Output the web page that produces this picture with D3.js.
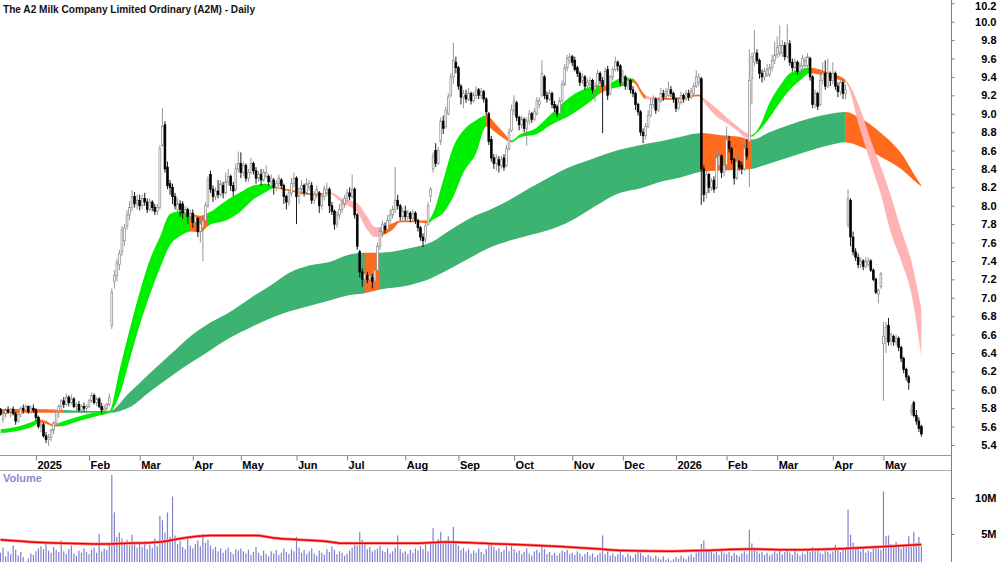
<!DOCTYPE html>
<html>
<head>
<meta charset="UTF-8" />
<title>A2M Daily</title>
<script src="https://d3js.org/d3.v7.min.js"></script>
<style>
  body { margin: 0; background: #fff; }
  svg text { font-family: "Liberation Sans", Arial, sans-serif; }
</style>
</head>
<body>
<div id="chart"></div>
<script>
// ---- data ----
const firstDay = '2024-12-10', lastDay = '2026-05-22';
const holidays = ['2024-12-25','2024-12-26','2025-01-01','2025-01-27','2025-04-18','2025-04-21',
  '2025-04-25','2025-06-09','2025-12-25','2025-12-26','2026-01-01','2026-01-26','2026-04-03','2026-04-06'];

const opens = [
  5.79,5.68,5.74,5.78,5.76,5.79,5.74,5.66,5.73,5.80,5.78,5.82,5.76,5.80,
  5.78,5.70,5.60,5.62,5.50,5.46,5.48,5.56,5.64,5.76,5.82,5.88,5.84,5.92,5.86,5.90,5.82,5.84,5.78,5.82,5.80,
  5.82,5.88,5.94,5.86,5.90,5.82,5.78,5.80,5.84,6.70,7.18,7.24,7.36,7.50,7.62,7.78,7.90,7.98,8.10,8.02,
  8.06,8.00,8.08,8.04,7.96,8.04,7.98,7.94,7.98,8.66,8.88,8.42,8.24,8.20,8.10,7.96,8.02,8.02,7.92,7.96,7.88,
  7.92,7.82,7.86,7.72,7.76,7.84,8.00,8.34,8.18,8.10,8.16,8.12,8.22,8.14,8.26,8.32,8.22,8.18,8.40,
  8.46,8.36,8.44,8.30,8.36,8.46,8.38,8.30,8.34,8.28,8.32,8.32,8.26,8.28,8.20,8.24,8.28,8.22,8.10,8.04,8.14,8.24,
  8.30,8.10,8.18,8.22,8.14,8.20,8.22,8.06,8.12,8.14,8.00,8.10,8.14,8.18,8.00,7.94,7.80,7.90,7.96,8.02,
  8.08,8.14,8.10,8.18,7.90,7.50,7.28,7.20,7.24,7.20,7.22,7.18,7.30,7.56,7.72,7.78,7.74,7.84,7.90,7.96,8.06,8.00,7.88,
  7.94,7.88,7.92,7.86,7.92,7.84,7.76,7.66,7.64,7.80,8.10,8.40,8.60,8.46,8.70,8.92,8.86,9.00,9.20,9.40,9.56,
  9.50,9.30,9.18,9.20,9.16,9.22,9.14,9.20,9.26,9.20,9.24,9.16,9.00,8.72,8.52,8.46,8.50,8.44,8.52,8.44,8.62,8.82,
  9.04,9.12,8.96,8.88,8.94,8.84,8.92,9.00,8.94,9.00,9.10,9.20,9.40,9.20,9.16,9.22,9.10,9.08,9.00,9.14,9.32,9.50,9.58,
  9.62,9.58,9.50,9.44,9.36,9.40,9.30,9.32,9.36,9.26,9.30,9.44,9.36,9.30,9.48,9.22,9.40,9.48,9.56,9.52,
  9.34,9.40,9.30,9.36,9.26,9.22,9.10,9.02,8.80,8.76,8.86,8.98,9.10,9.16,9.04,9.14,9.22,9.18,9.20,9.26,9.22,
  9.16,9.06,9.12,9.20,9.16,9.22,9.18,9.22,9.30,9.34,9.38,8.40,8.14,8.34,8.20,8.28,8.20,8.44,8.54,8.36,
  8.44,8.70,8.62,8.50,8.30,8.48,8.44,8.40,8.62,8.70,9.38,9.56,9.66,9.58,9.44,9.40,9.42,9.42,9.50,9.58,
  9.64,9.66,9.66,9.74,9.62,9.76,9.56,9.50,9.56,9.46,9.52,9.52,9.52,9.60,9.40,9.10,9.22,9.10,9.36,9.44,9.30,9.44,
  9.36,9.44,9.30,9.24,9.34,9.22,7.80,8.06,7.66,7.50,7.44,7.36,7.40,7.34,7.36,7.40,7.30,7.20,7.04,7.12,
  6.50,6.56,6.70,6.54,6.58,6.52,6.56,6.46,6.34,6.22,6.14,5.76,5.86,5.72,5.66,5.60
];
const highs = [
  5.80,5.76,5.80,5.82,5.80,5.82,5.76,5.76,5.82,5.84,5.84,5.83,5.83,5.84,
  5.80,5.72,5.64,5.64,5.54,5.52,5.58,5.66,5.78,5.84,5.90,5.92,5.96,5.94,5.95,5.92,5.86,5.88,5.84,5.86,5.84,
  5.90,5.97,5.96,5.92,5.92,5.86,5.84,5.86,5.96,7.10,7.30,7.42,7.52,7.78,7.80,7.95,8.05,8.17,8.15,8.12,
  8.12,8.12,8.14,8.08,8.08,8.06,8.02,8.02,8.66,9.06,8.92,8.48,8.28,8.24,8.14,8.08,8.06,8.05,8.00,7.98,7.96,
  7.96,7.90,7.88,7.84,7.88,8.04,8.32,8.38,8.22,8.20,8.28,8.28,8.26,8.36,8.40,8.34,8.26,8.46,8.59,
  8.58,8.48,8.46,8.40,8.52,8.48,8.42,8.38,8.40,8.40,8.44,8.34,8.34,8.30,8.28,8.34,8.30,8.24,8.12,8.16,8.30,8.36,
  8.32,8.20,8.28,8.24,8.30,8.28,8.26,8.16,8.22,8.16,8.12,8.22,8.25,8.20,8.04,7.96,7.94,8.02,8.06,8.12,
  8.18,8.20,8.34,8.20,7.92,7.52,7.32,7.32,7.28,7.28,7.26,7.32,7.60,7.76,7.84,7.82,7.90,7.96,8.00,8.42,8.12,8.02,7.98,
  8.00,7.96,7.94,7.96,7.94,7.86,7.78,7.70,7.82,8.04,8.20,8.58,8.68,8.64,8.96,8.98,9.08,9.22,9.44,9.77,9.62,
  9.52,9.32,9.26,9.26,9.28,9.24,9.24,9.30,9.28,9.28,9.26,9.18,9.02,8.76,8.56,8.56,8.54,8.54,8.56,8.66,8.84,9.10,
  9.20,9.14,8.98,8.98,8.96,8.96,9.04,9.02,9.06,9.18,9.18,9.58,9.42,9.24,9.26,9.24,9.14,9.10,9.18,9.36,9.54,9.64,9.66,
  9.64,9.62,9.52,9.46,9.44,9.42,9.38,9.40,9.38,9.34,9.48,9.46,9.40,9.50,9.52,9.42,9.50,9.62,9.58,9.54,
  9.48,9.42,9.40,9.38,9.30,9.24,9.12,9.04,8.84,8.90,9.04,9.16,9.20,9.18,9.18,9.28,9.26,9.28,9.35,9.30,9.24,
  9.18,9.16,9.24,9.22,9.26,9.26,9.28,9.34,9.47,9.44,9.40,8.44,8.38,8.36,8.30,8.32,8.58,8.60,8.56,8.48,
  8.86,8.76,8.64,8.52,8.56,8.50,8.48,8.70,8.72,9.70,9.66,9.91,9.70,9.60,9.48,9.50,9.54,9.54,9.64,9.78,
  9.84,9.96,9.80,9.78,9.97,9.80,9.60,9.60,9.58,9.56,9.64,9.62,9.66,9.62,9.42,9.26,9.24,9.44,9.56,9.58,9.60,9.46,
  9.56,9.46,9.34,9.38,9.36,9.32,8.18,8.08,7.72,7.54,7.48,7.44,7.42,7.44,7.44,7.42,7.32,7.22,7.10,7.28,
  6.74,6.74,6.78,6.62,6.60,6.60,6.58,6.48,6.36,6.24,6.16,5.84,5.88,5.78,5.70,5.62
];
const lows = [
  5.72,5.64,5.70,5.74,5.70,5.72,5.62,5.64,5.70,5.74,5.76,5.74,5.74,5.75,
  5.66,5.58,5.54,5.48,5.42,5.39,5.44,5.52,5.62,5.70,5.78,5.80,5.82,5.82,5.84,5.80,5.76,5.76,5.74,5.76,5.74,
  5.80,5.86,5.84,5.82,5.80,5.74,5.74,5.76,5.82,6.66,7.10,7.18,7.30,7.45,7.56,7.74,7.84,7.94,7.98,7.96,
  7.95,7.96,8.00,7.92,7.94,7.94,7.90,7.90,7.96,8.64,8.36,8.18,8.12,8.02,7.96,7.90,7.88,7.86,7.84,7.80,7.84,
  7.76,7.74,7.66,7.60,7.40,7.80,7.98,8.14,8.04,8.06,8.08,8.10,8.08,8.12,8.22,8.16,8.10,8.16,8.36,
  8.30,8.32,8.26,8.26,8.34,8.34,8.24,8.26,8.22,8.26,8.30,8.22,8.22,8.12,8.16,8.20,8.18,8.02,7.96,8.00,8.10,8.20,
  7.80,8.02,8.12,8.10,8.12,8.16,8.02,8.02,8.08,7.92,7.96,8.06,8.10,7.92,7.90,7.74,7.76,7.86,7.92,7.98,
  8.04,8.06,8.08,7.86,7.52,7.22,7.12,7.16,7.16,7.14,7.10,7.12,7.26,7.52,7.66,7.70,7.72,7.80,7.86,7.92,7.96,7.84,7.84,
  7.84,7.84,7.82,7.84,7.80,7.72,7.62,7.55,7.60,7.78,8.04,8.36,8.42,8.44,8.66,8.78,8.84,8.98,9.18,9.32,9.44,
  9.26,9.10,9.06,9.12,9.14,9.10,9.12,9.16,9.16,9.16,9.12,8.98,8.66,8.48,8.40,8.38,8.36,8.40,8.38,8.42,8.60,8.80,
  8.98,8.92,8.82,8.84,8.80,8.65,8.88,8.90,8.92,8.98,9.06,9.18,9.16,9.12,9.14,9.06,9.02,8.96,8.98,9.12,9.30,9.46,9.54,
  9.52,9.46,9.40,9.30,9.32,9.26,9.26,9.28,9.22,9.13,9.28,9.32,8.79,9.28,9.15,9.20,9.36,9.46,9.46,9.30,
  9.30,9.26,9.26,9.22,9.18,9.04,8.98,8.76,8.68,8.72,8.84,8.96,9.06,9.00,9.02,9.12,9.14,9.16,9.18,9.18,9.12,
  9.02,9.04,9.10,9.12,9.14,9.14,9.16,9.20,9.28,9.30,8.01,8.04,8.08,8.14,8.16,8.14,8.18,8.40,8.30,8.32,
  8.40,8.58,8.46,8.23,8.28,8.38,8.34,8.38,8.50,8.20,9.10,9.52,9.54,9.38,9.34,9.36,9.40,9.40,9.46,9.54,
  9.60,9.62,9.62,9.58,9.60,9.52,9.46,9.46,9.42,9.42,9.48,9.48,9.50,9.36,9.06,9.06,9.04,9.08,9.32,9.26,9.28,9.30,
  9.32,9.26,9.18,9.20,9.16,9.16,7.76,7.56,7.46,7.40,7.32,7.32,7.30,7.32,7.34,7.28,7.18,7.04,6.94,7.10,
  5.88,6.40,6.48,6.48,6.48,6.48,6.42,6.30,6.18,6.10,6.00,5.72,5.70,5.62,5.54,5.49
];
const closes = [
  5.73,5.74,5.78,5.76,5.79,5.74,5.66,5.73,5.80,5.78,5.82,5.76,5.80,5.78,
  5.70,5.60,5.62,5.50,5.46,5.48,5.56,5.64,5.76,5.82,5.88,5.84,5.92,5.86,5.90,5.82,5.84,5.78,5.82,5.80,5.82,
  5.88,5.94,5.86,5.90,5.82,5.78,5.80,5.84,5.92,7.06,7.24,7.38,7.48,7.74,7.76,7.90,7.98,8.10,8.02,8.06,
  8.00,8.08,8.04,7.96,8.04,7.98,7.94,7.98,8.62,8.86,8.40,8.22,8.20,8.10,8.00,8.02,7.96,7.92,7.96,7.88,7.92,
  7.82,7.88,7.72,7.80,7.84,8.00,8.28,8.18,8.10,8.16,8.12,8.24,8.14,8.26,8.32,8.22,8.16,8.40,8.46,
  8.36,8.44,8.30,8.36,8.46,8.38,8.30,8.34,8.28,8.36,8.36,8.26,8.30,8.20,8.24,8.30,8.22,8.10,8.04,8.14,8.24,8.30,
  8.10,8.18,8.22,8.14,8.24,8.24,8.06,8.12,8.18,8.00,8.10,8.18,8.18,8.00,7.94,7.80,7.90,7.96,8.02,8.08,
  8.14,8.10,8.18,7.90,7.56,7.28,7.20,7.26,7.20,7.24,7.18,7.30,7.56,7.72,7.80,7.74,7.84,7.90,7.96,8.06,8.00,7.88,7.94,
  7.88,7.92,7.86,7.92,7.84,7.76,7.66,7.62,7.78,8.00,8.18,8.54,8.46,8.60,8.92,8.84,9.04,9.18,9.40,9.58,9.50,
  9.30,9.18,9.22,9.16,9.22,9.14,9.20,9.26,9.20,9.24,9.16,9.02,8.70,8.52,8.46,8.52,8.44,8.50,8.42,8.62,8.80,9.04,
  9.14,8.96,8.88,8.94,8.84,8.92,9.00,8.94,9.02,9.14,9.14,9.44,9.20,9.16,9.22,9.10,9.06,9.00,9.14,9.32,9.50,9.60,9.62,
  9.56,9.48,9.44,9.34,9.40,9.30,9.34,9.36,9.26,9.30,9.44,9.36,9.30,9.46,9.20,9.40,9.48,9.56,9.52,9.34,
  9.40,9.30,9.36,9.26,9.22,9.10,9.02,8.80,8.76,8.86,8.98,9.10,9.16,9.04,9.14,9.22,9.18,9.24,9.26,9.22,9.16,
  9.06,9.12,9.20,9.16,9.22,9.18,9.24,9.30,9.40,9.40,8.40,8.12,8.34,8.20,8.26,8.18,8.52,8.54,8.36,8.44,
  8.72,8.62,8.50,8.30,8.48,8.42,8.40,8.62,8.54,9.36,9.62,9.66,9.58,9.44,9.40,9.46,9.48,9.50,9.58,9.64,
  9.72,9.74,9.74,9.62,9.76,9.56,9.50,9.56,9.46,9.52,9.60,9.58,9.62,9.40,9.10,9.22,9.08,9.36,9.44,9.30,9.44,9.36,
  9.44,9.30,9.24,9.34,9.22,9.26,8.08,7.66,7.50,7.44,7.36,7.40,7.34,7.40,7.40,7.30,7.20,7.06,7.08,7.26,
  6.58,6.68,6.52,6.60,6.52,6.56,6.46,6.34,6.22,6.14,6.08,5.78,5.72,5.66,5.58,5.52
];
// volume in millions of shares
const volumes = [
  2.4,3.1,1.9,2.6,2.2,3.4,2.8,2.0,2.5,1.8,1.2,1.6,2.3,2.1,
  2.6,3.0,3.3,2.9,3.8,2.7,2.4,3.2,2.8,2.5,4.1,2.6,2.2,2.9,3.4,2.3,2.0,2.7,2.4,3.0,2.5,
  2.2,2.8,3.1,2.4,5.0,2.6,3.0,2.8,3.6,13.2,8.0,4.6,5.2,4.4,3.8,4.2,3.4,4.9,3.6,3.1,
  3.8,3.2,4.0,2.9,3.5,3.1,4.4,3.3,7.5,6.9,5.2,8.0,4.6,10.2,4.8,3.6,4.0,3.2,2.9,4.7,3.4,
  3.0,3.6,4.1,3.3,5.0,3.8,4.2,3.4,2.9,3.2,2.6,3.0,2.4,2.8,3.1,2.5,2.2,2.9,2.7,
  3.0,2.6,2.3,2.8,2.1,2.5,3.2,2.4,2.0,2.7,2.2,1.9,2.6,2.3,2.8,2.1,2.4,3.0,2.5,2.2,2.9,2.6,
  4.6,3.1,2.4,2.8,2.2,2.6,3.0,2.3,2.0,2.7,2.4,2.1,2.9,2.5,3.3,2.8,2.2,2.6,2.4,2.0,
  2.3,2.7,3.1,3.8,3.4,5.3,4.2,3.6,2.9,3.2,2.6,2.8,3.0,3.4,2.7,2.5,3.0,2.3,2.6,3.1,4.8,2.9,2.4,
  2.6,2.2,2.8,2.4,3.0,2.7,3.3,2.9,3.5,2.6,3.8,5.8,3.9,4.3,5.3,3.7,4.1,4.7,3.6,6.0,3.9,
  3.4,2.8,3.1,2.6,2.9,2.3,2.7,2.4,3.0,2.5,2.2,2.9,3.6,3.8,3.2,2.7,3.0,2.5,2.8,3.3,2.6,3.4,
  2.9,2.4,2.7,2.2,2.5,3.0,2.3,2.0,2.6,2.8,2.4,3.6,2.9,2.2,2.5,2.1,2.4,2.0,2.3,2.7,2.5,2.8,2.2,
  2.4,2.1,2.6,2.3,1.9,2.2,2.5,2.0,2.3,1.8,2.1,2.4,4.8,2.2,2.6,2.0,2.3,1.9,2.2,2.5,
  2.1,1.8,2.3,2.0,1.7,2.2,2.6,2.4,2.0,1.8,2.1,1.9,1.6,2.0,1.7,1.5,1.9,1.4,1.6,1.3,1.5,
  1.8,1.6,2.0,1.7,1.5,1.9,2.2,1.8,2.4,2.7,3.6,4.1,3.0,2.6,2.8,2.3,2.5,2.1,2.7,2.4,
  2.2,2.5,2.0,2.4,2.1,1.9,2.3,2.6,2.2,5.6,3.7,2.9,2.6,2.3,2.5,2.1,2.4,2.0,2.2,2.6,
  2.3,2.8,2.2,2.5,2.9,2.4,2.1,2.6,2.3,2.0,2.4,2.2,2.7,2.5,3.2,2.6,2.9,2.4,2.2,2.7,2.5,2.3,
  2.6,3.5,2.9,2.5,2.8,3.0,8.4,4.9,3.8,3.2,3.0,2.6,2.9,2.4,2.7,2.5,3.1,3.4,3.0,2.8,
  10.9,4.7,4.8,3.6,3.2,3.9,3.4,3.0,3.3,3.6,4.7,3.2,5.3,3.8,4.6,3.3
];
// volume average line, sampled at trading-day index
const volAvgIdx = [0,12,25,40,50,63,70,78,83,90,101,108,118,128,136,151,163,176,191,206,221,237,246,264,276,297,314,334,352,364];
const volAvg    = [4.2,3.9,3.7,3.6,3.7,3.9,4.3,4.7,4.8,4.8,4.8,4.45,4.2,4.0,3.7,3.7,3.7,3.9,3.7,3.5,3.25,2.9,2.7,2.6,2.7,2.9,2.8,3.0,3.3,3.55];

// short-term ribbon (sampled at trading-day index); colour code of the segment that starts at each sample
const shortIdx = [0,8,14,15,18,21,23,31,39,43,47,51,55,59,63,67,71,75,79,82,90,95,100,105,108,114,125,130,135,141,145,148,151,155,158,164,169,171,175,179,183,188,192,196,199,202,205,212,217,225,233,237,240,246,250,255,260,269,276,277,283,287,291,295,297,300,304,308,312,316,320,328,334,340,344,348,352,356,360,364];
const shortHi  = [5.57,5.61,5.67,5.68,5.66,5.62,5.64,5.71,5.76,5.77,6.21,6.65,7.06,7.41,7.66,7.91,7.94,7.92,7.89,7.92,8.07,8.15,8.22,8.24,8.21,8.18,8.13,8.15,8.08,8.03,7.88,7.77,7.77,7.81,7.84,7.84,7.84,7.92,8.28,8.64,8.82,8.93,8.98,8.88,8.79,8.71,8.77,8.85,8.98,9.18,9.29,9.31,9.32,9.39,9.38,9.20,9.17,9.18,9.21,9.19,9.06,8.96,8.87,8.79,8.77,8.86,9.12,9.30,9.44,9.48,9.50,9.44,9.37,9.04,8.71,8.42,8.10,7.74,7.40,6.88];
const shortLo  = [5.53,5.56,5.62,5.64,5.63,5.60,5.60,5.66,5.72,5.75,5.94,6.32,6.70,7.03,7.32,7.57,7.67,7.72,7.71,7.78,7.85,7.94,8.07,8.15,8.19,8.16,8.11,8.13,8.03,7.93,7.74,7.66,7.68,7.74,7.82,7.82,7.81,7.85,7.92,8.10,8.36,8.57,8.86,8.79,8.73,8.69,8.74,8.78,8.87,8.98,9.13,9.22,9.26,9.30,9.34,9.16,9.15,9.16,9.19,9.16,8.97,8.90,8.82,8.74,8.75,8.82,8.96,9.12,9.26,9.36,9.44,9.39,9.34,8.81,8.46,8.12,7.70,7.40,7.05,6.36];
const shortCol = ['ggg','ooo','ggggggggggg','oo','ggggg','ooo','ppppp','oooo','gggggg','ooo',
  'gggggg','o','gg','o','p','ooo','ppppp','gggggg','oo','pppppppp'].join('');

// long-term ribbon
const longIdx = [0,12,25,33,43,51,59,67,75,83,91,99,107,114,122,130,138,144,150,162,170,178,186,193,201,209,217,225,233,245,253,261,269,277,284,292,297,304,312,320,328,334,340,348,356,363,364];
const longHi  = [5.79,5.79,5.78,5.77,5.77,5.97,6.18,6.38,6.58,6.73,6.85,7.00,7.14,7.27,7.35,7.39,7.47,7.49,7.49,7.54,7.60,7.74,7.87,7.95,8.06,8.19,8.31,8.42,8.50,8.61,8.66,8.70,8.75,8.79,8.77,8.75,8.72,8.80,8.88,8.95,9.00,9.02,8.95,8.79,8.57,8.26,8.22];
const longLo  = [5.74,5.75,5.75,5.75,5.75,5.81,5.98,6.14,6.29,6.43,6.57,6.68,6.78,6.85,6.91,6.97,7.03,7.05,7.09,7.14,7.21,7.32,7.44,7.54,7.62,7.68,7.74,7.83,7.96,8.14,8.19,8.26,8.31,8.37,8.38,8.39,8.40,8.46,8.53,8.60,8.66,8.69,8.64,8.53,8.40,8.23,8.21];
const longCol = ['oo','ggggggggggggggg','o','ggggggggggggggg','ooo','ggggg','oooooo'].join('');

const ribbonColors = { g: '#00ee00', o: '#ff6a1c', p: '#ffb3b3' };
const longColors   = { g: '#3cb371', o: '#ff6a1c', p: '#ffb3b3' };

// ---- trading calendar ----
const fmtDay = d3.timeFormat('%Y-%m-%d');
const parseDay = d3.timeParse('%Y-%m-%d');
const hol = new Set(holidays);
const dates = d3.timeDays(parseDay(firstDay), d3.timeDay.offset(parseDay(lastDay), 1))
  .filter(d => d.getDay() !== 0 && d.getDay() !== 6 && !hol.has(fmtDay(d)));
if (dates.length !== closes.length) console.error('length mismatch', dates.length, closes.length);
if (shortCol.length !== shortIdx.length) console.error('short colours', shortCol.length, shortIdx.length);
if (longCol.length !== longIdx.length) console.error('long colours', longCol.length, longIdx.length);

// ---- layout ----
const W = 1000, H = 562;
const axisX = 951, priceBottom = 455, volTop = 470;

const svg = d3.select('#chart').append('svg')
  .attr('width', W).attr('height', H)
  .style('display', 'block');
const defs = svg.append('defs');

const x = d3.scaleLinear().domain([0, dates.length - 1]).range([0.5, 921.4]);
const y = d3.scaleLinear().domain([5.4, 10.2]).range([445, 3.3]);
const yv = d3.scaleLinear().domain([0, 10]).range([570, 498]);

defs.append('clipPath').attr('id', 'priceClip').append('rect')
  .attr('x', 0).attr('y', 0).attr('width', axisX).attr('height', priceBottom);
defs.append('clipPath').attr('id', 'volClip').append('rect')
  .attr('x', 0).attr('y', volTop + 1).attr('width', axisX).attr('height', H - volTop);

const priceArea = svg.append('g').attr('clip-path', 'url(#priceClip)');

// ---- ribbons ----
function drawRibbon(g, idx, hi, lo, col, palette, name) {
  const area = d3.area()
    .x(k => x(idx[k]))
    .y0(k => y(lo[k]))
    .y1(k => y(hi[k]))
    .curve(d3.curveMonotoneX);
  const pathD = area(d3.range(idx.length));
  const runs = [];
  let s = 0;
  for (let k = 1; k <= idx.length; k++) {
    if (k === idx.length || col[k] !== col[s]) {
      runs.push({ from: idx[s], to: idx[Math.min(k, idx.length - 1)], c: col[s] });
      s = k;
    }
  }
  runs.forEach((r, j) => {
    const id = name + j;
    const x0 = x(r.from), x1 = x(r.to);
    defs.append('clipPath').attr('id', id).append('rect')
      .attr('x', x0 - 0.2).attr('y', 0)
      .attr('width', Math.max(0.5, x1 - x0 + 0.4)).attr('height', priceBottom);
    g.append('path')
      .attr('d', pathD)
      .attr('fill', palette[r.c])
      .attr('clip-path', `url(#${id})`);
  });
}
drawRibbon(priceArea.append('g'), longIdx, longHi, longLo, longCol, longColors, 'lr');
drawRibbon(priceArea.append('g'), shortIdx, shortHi, shortLo, shortCol, ribbonColors, 'sr');

// ---- candles ----
const candles = d3.range(dates.length).map(i => ({
  i, o: opens[i], h: highs[i], l: lows[i], c: closes[i], up: closes[i] >= opens[i]
}));
const cg = priceArea.append('g');
cg.selectAll('line.wick').data(candles).join('line')
  .attr('class', 'wick')
  .attr('x1', d => x(d.i)).attr('x2', d => x(d.i))
  .attr('y1', d => y(d.h)).attr('y2', d => y(d.l))
  .attr('stroke', d => d.up ? '#8a8a8a' : '#000')
  .attr('stroke-width', 0.9);
cg.selectAll('rect.body').data(candles).join('rect')
  .attr('class', 'body')
  .attr('x', d => x(d.i) - 0.9)
  .attr('width', 1.8)
  .attr('y', d => y(Math.max(d.o, d.c)))
  .attr('height', d => Math.max(0.8, y(Math.min(d.o, d.c)) - y(Math.max(d.o, d.c))))
  .attr('fill', d => d.up ? '#ffffff' : '#000')
  .attr('stroke', d => d.up ? '#8a8a8a' : '#000')
  .attr('stroke-width', 0.7);

// ---- volume ----
const vg = svg.append('g').attr('clip-path', 'url(#volClip)');
vg.selectAll('rect').data(volumes).join('rect')
  .attr('x', (d, i) => x(i) - 0.6)
  .attr('width', 1.2)
  .attr('y', d => yv(d))
  .attr('height', d => yv(0) - yv(d))
  .attr('fill', '#8080cc');
const avgLine = d3.line()
  .x((d, k) => x(volAvgIdx[k]))
  .y(d => yv(d))
  .curve(d3.curveMonotoneX);
vg.append('path').attr('d', avgLine(volAvg))
  .attr('fill', 'none').attr('stroke', '#ff8a8a').attr('stroke-width', 3);
vg.append('path').attr('d', avgLine(volAvg))
  .attr('fill', 'none').attr('stroke', '#ee0000').attr('stroke-width', 1.5);

// ---- frame lines ----
svg.append('line').attr('x1', 0).attr('x2', axisX).attr('y1', priceBottom + 0.5).attr('y2', priceBottom + 0.5)
  .attr('stroke', '#9a9a9a');
svg.append('line').attr('x1', 0).attr('x2', axisX).attr('y1', volTop + 0.5).attr('y2', volTop + 0.5)
  .attr('stroke', '#b0b0b0');
svg.append('line').attr('x1', axisX + 0.5).attr('x2', axisX + 0.5).attr('y1', 0).attr('y2', H)
  .attr('stroke', '#808080');

// ---- axes ----
const priceAxis = d3.axisRight(y)
  .tickValues(d3.range(0, 25).map(k => 5.4 + k * 0.2))
  .tickSize(3)
  .tickFormat(d3.format('.1f'));
const pa = svg.append('g').attr('transform', `translate(${axisX + 0.5},0)`).call(priceAxis);
pa.select('.domain').remove();
pa.selectAll('.tick line').attr('stroke', '#808080');
pa.selectAll('.tick text')
  .attr('x', 45).attr('text-anchor', 'end')
  .attr('dy', d => d > 10.1 ? '0.55em' : '0.32em')
  .style('font-size', '11px').style('font-weight', 'bold').attr('fill', '#000');

const volAxis = d3.axisRight(yv).tickValues([5, 10]).tickSize(3).tickFormat(d => d + 'M');
const va = svg.append('g').attr('transform', `translate(${axisX + 0.5},0)`).call(volAxis);
va.select('.domain').remove();
va.selectAll('.tick line').attr('stroke', '#808080');
va.selectAll('.tick text')
  .attr('x', 45).attr('text-anchor', 'end')
  .style('font-size', '11px').style('font-weight', 'bold').attr('fill', '#000');

const monthStarts = d3.range(1, dates.length).filter(i => dates[i].getMonth() !== dates[i - 1].getMonth());
const monthAxis = d3.axisBottom(x)
  .tickValues(monthStarts)
  .tickSize(5)
  .tickFormat(i => dates[i].getMonth() === 0 ? d3.timeFormat('%Y')(dates[i]) : d3.timeFormat('%b')(dates[i]));
const ma = svg.append('g').attr('transform', `translate(0,${priceBottom + 0.5})`).call(monthAxis);
ma.select('.domain').remove();
ma.selectAll('.tick line').attr('stroke', '#808080');
ma.selectAll('.tick text')
  .attr('x', 1).attr('y', 6).attr('dy', '0.71em').attr('text-anchor', 'start')
  .style('font-size', '11px').style('font-weight', 'bold').attr('fill', '#000');

// ---- labels ----
svg.append('text')
  .attr('x', 3).attr('y', 12.5)
  .attr('textLength', 252).attr('lengthAdjust', 'spacingAndGlyphs')
  .style('font-size', '11px').style('font-weight', 'bold').attr('fill', '#111')
  .text('The A2 Milk Company Limited Ordinary (A2M) - Daily');
svg.append('text')
  .attr('x', 3).attr('y', 482)
  .style('font-size', '11px').style('font-weight', 'bold').attr('fill', '#8a8acc')
  .text('Volume');
</script>
</body>
</html>
